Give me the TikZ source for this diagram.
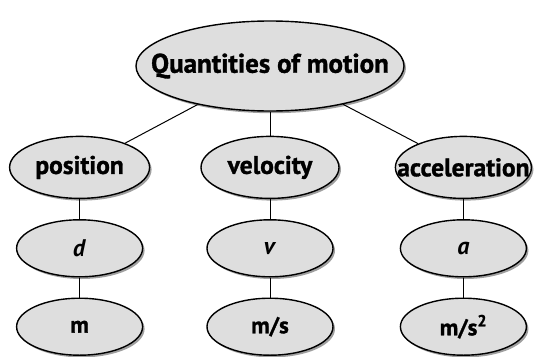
\documentclass[tikz,border=0pt]{standalone}
\usepackage{fontspec}
\setmainfont[BoldFeatures = {FakeBold = 1.2}]{PT Sans}
\usetikzlibrary{shapes,positioning,shadows}
\tikzset{oval/.style = {draw, ellipse, line width = 1.4pt, fill = black!13, inner sep = 0pt,
                        drop shadow = {shadow xshift = 2pt, shadow yshift = -2.2pt, fill = black!75}},
         head/.style = {oval, minimum width = 268pt, minimum height = 90pt},
         quantity/.style = {oval, minimum height = 62pt},
         symbol/.style = {oval, minimum width = 126pt, minimum height = 57pt},
}

\begin{document}
\begin{tikzpicture}[auto, node distance = 20pt, line width = 1pt]
  \useasboundingbox (0,0) rectangle (538pt,-356pt);

  \node[head, font = \bfseries\fontsize{27}{31}\selectfont] at (270pt,-66pt) (motion) {\makebox[0pt]{Quantities of motion}};
  \node[quantity, minimum width = 138pt, below = 24pt of motion, font = \bfseries\fontsize{25.5}{29}\selectfont] (vel) {velocity};
  \node[quantity, minimum width = 140pt, left = 50pt of vel, font = \bfseries\fontsize{25.5}{29}\selectfont] (pos) {position};
  \node[quantity, minimum width = 136pt, right = 55pt of vel, font = \bfseries\fontsize{25.5}{29}\selectfont] (acc) {\makebox[0pt]{acceleration}};
  \node[symbol, below = of pos, font = \bfseries\fontsize{24}{28}\selectfont] (d) {\textit{d}};
  \node[symbol, below = of vel, font = \bfseries\fontsize{24}{28}\selectfont] (v) {\textit{v}};
  \node[symbol, below = of acc, font = \bfseries\fontsize{24}{28}\selectfont] (a) {\textit{a}};
  \node[symbol, below = of d, font = \bfseries\fontsize{23}{27}\selectfont] (m) {m};
  \node[symbol, below = of v, font = \bfseries\fontsize{23}{27}\selectfont] (ms) {m/s};
  \node[symbol, below = of a, font = \bfseries\fontsize{23}{27}\selectfont] (ms2) {m/s\textsuperscript{2}};

  \draw (motion) -- (pos);
  \draw (motion) -- (vel);
  \draw (motion) -- (acc);
  \draw (pos) -- (d);
  \draw (vel) -- (v);
  \draw (acc) -- (a);
  \draw (d) -- (m);
  \draw (v) -- (ms);
  \draw (a) -- (ms2);

\end{tikzpicture}
\end{document}
